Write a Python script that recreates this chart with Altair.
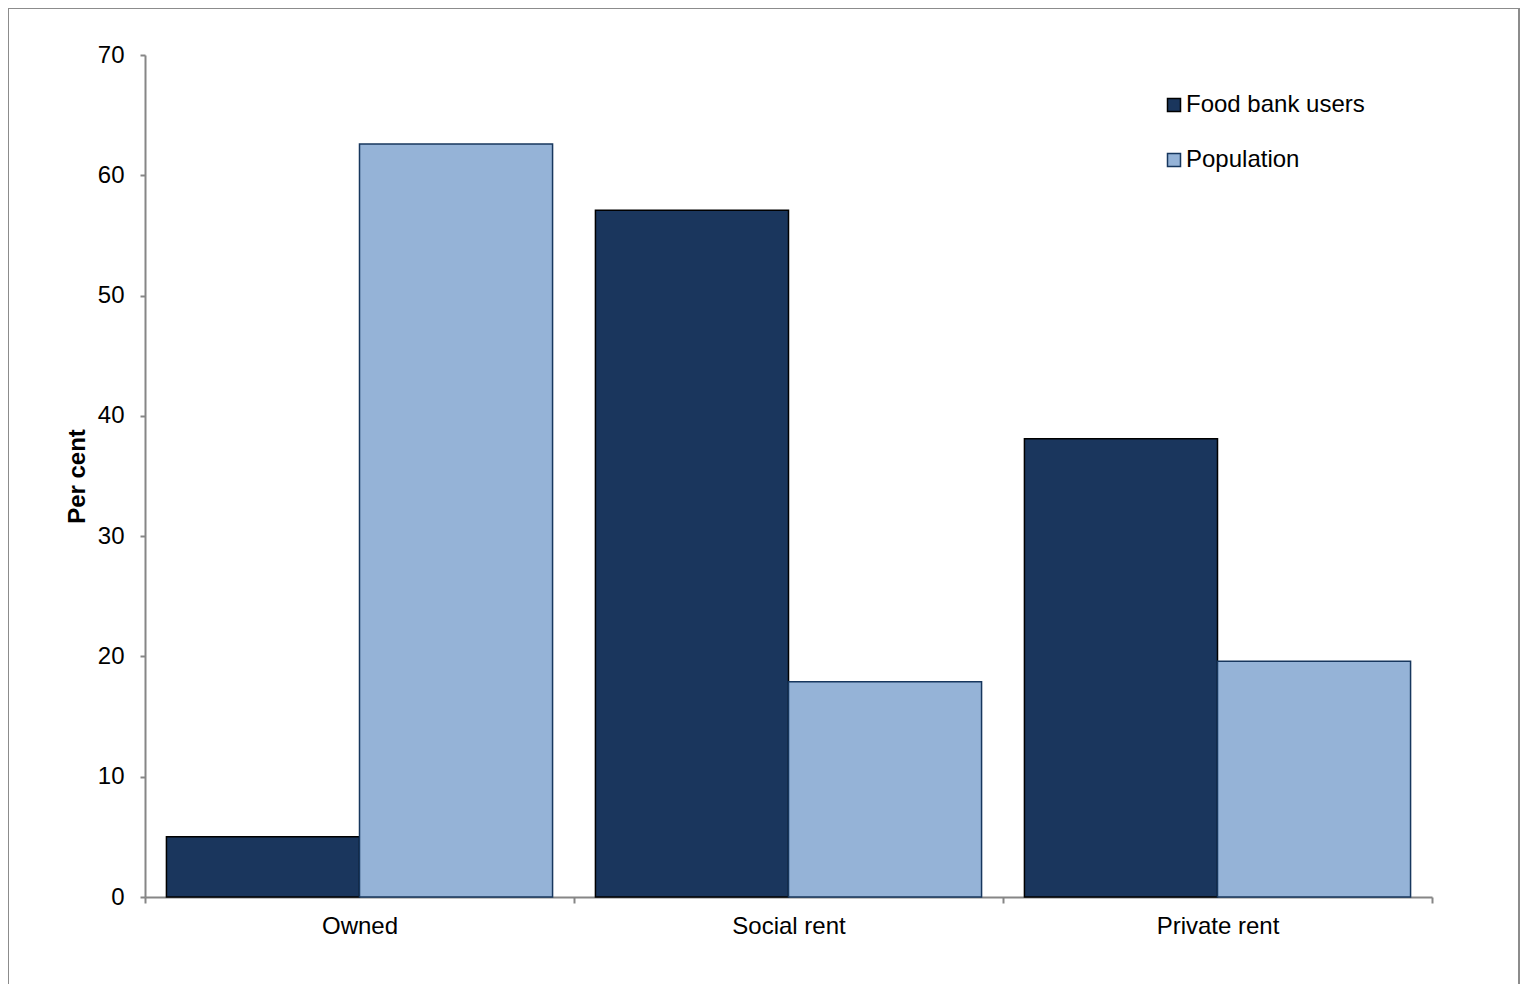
import altair as alt
import pandas as pd

categories = ["Owned", "Social rent", "Private rent"]
series = ["Food bank users", "Population"]
food_bank_users = [5.0, 57.1, 38.1]
population = [62.6, 17.9, 19.6]

rows = []
for c, v in zip(categories, food_bank_users):
    rows.append({"tenure": c, "group": series[0], "value": v})
for c, v in zip(categories, population):
    rows.append({"tenure": c, "group": series[1], "value": v})
df = pd.DataFrame(rows)

FONT = "Liberation Sans"
legend = alt.Legend(
    title=None, orient="none", legendX=1017, legendY=38,
    symbolType="square", symbolSize=169, symbolStrokeWidth=1.5,
    labelFont=FONT, labelFontSize=24, labelColor="#000000",
    labelOffset=0, rowPadding=31, labelLimit=0,
)

bars = alt.Chart(df).mark_bar(strokeWidth=1.5).encode(
    x=alt.X("tenure:N", sort=categories,
            scale=alt.Scale(paddingInner=0, paddingOuter=0),
            axis=alt.Axis(title=None, labelAngle=0, tickBand="extent",
                          labelFont=FONT, labelFontSize=24, labelColor="#000000",
                          labelPadding=11, tickSize=6, tickColor="#868686",
                          domainColor="#868686", domainWidth=2, tickWidth=2,
                          grid=False)),
    xOffset=alt.XOffset("group:N", sort=series,
                        scale=alt.Scale(paddingInner=0, paddingOuter=0.111)),
    y=alt.Y("value:Q", scale=alt.Scale(domain=[0, 70], nice=False),
            axis=alt.Axis(title="Per cent", values=list(range(0, 71, 10)),
                          labelFont=FONT, labelFontSize=24, labelColor="#000000",
                          labelPadding=16, tickSize=5, tickColor="#868686",
                          domainColor="#868686", domainWidth=2, tickWidth=2,
                          titleFont=FONT, titleFontSize=24, titleFontWeight="bold",
                          titleColor="#000000", titlePadding=8, grid=False)),
    fill=alt.Fill("group:N", sort=series,
                  scale=alt.Scale(domain=series, range=["#1A365D", "#95B3D7"]),
                  legend=legend),
    stroke=alt.Stroke("group:N", sort=series,
                      scale=alt.Scale(domain=series, range=["#000000", "#17375E"]),
                      legend=legend),
)

frame = alt.Chart(alt.Data(values=[{"f": 1}])).mark_rect(
    fill=None, stroke="#8C8C8C", strokeWidth=2, clip=False
).encode(
    x=alt.value(-137), x2=alt.value(1374),
    y=alt.value(-47), y2=alt.value(940),
)

chart = alt.layer(frame, bars).properties(
    width=1287, height=842,
    background="#FFFFFF",
    autosize=alt.AutoSizeParams(type="none"),
    padding={"left": 137, "top": 47, "right": 89, "bottom": 87},
).configure_view(stroke="transparent", strokeWidth=0)

chart.save("out.html", embed_options={"renderer": "svg", "actions": False})
